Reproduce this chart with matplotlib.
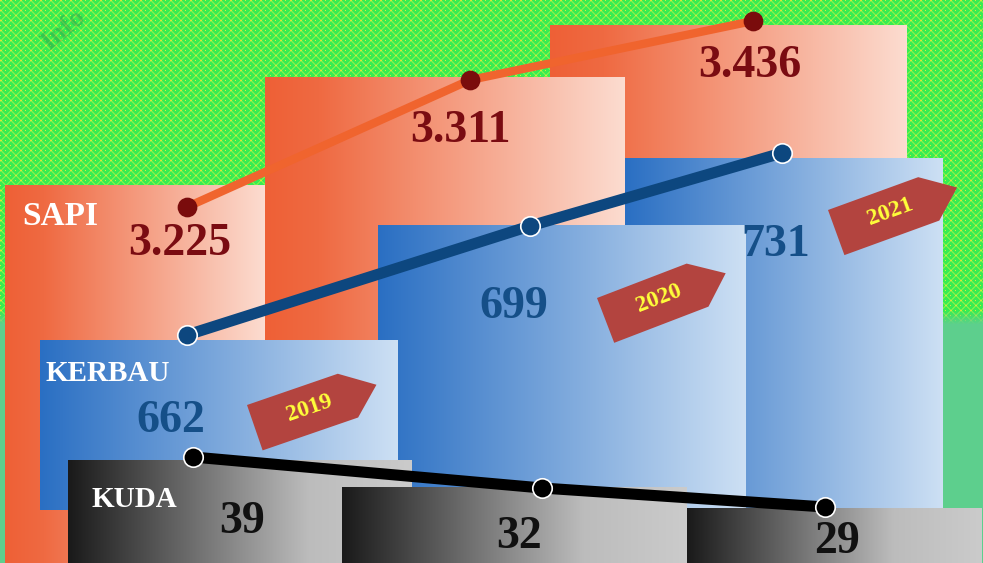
import numpy as np
import matplotlib.pyplot as plt
from matplotlib.colors import LinearSegmentedColormap, to_rgb
from matplotlib.patches import Polygon

# --- DATA ---
years = ['2019', '2020', '2021']
sapi = [3225, 3311, 3436]
kerbau = [662, 699, 731]
kuda = [39, 32, 29]

# --- LAYOUT (pixel coords, y grows downward) ---
W, H = 983, 563
# panel boxes: (left, right, top, bottom)
sapi_box = [(5, 265, 185, 563), (265, 625, 77, 563), (550, 907, 25, 563)]
kerbau_box = [(40, 398, 340, 510), (378, 746, 225, 563), (625, 943, 158, 563)]
kuda_box = [(68, 412, 460, 563), (342, 687, 487, 563), (687, 982, 508, 563)]
# line anchor points
sapi_pts = [(187, 207), (470, 80), (753, 21)]
kerbau_pts = [(187, 335), (530, 226), (782, 153)]
kuda_pts = [(193, 457), (542, 488), (825, 507)]
# value label positions (center x, baseline y)
sapi_lbl = [(180, 255), (460, 142), (750, 77)]
kerbau_lbl = [(171, 432), (514, 318), (776, 256)]
kuda_lbl = [(242, 533), (519, 548), (837, 553)]
# year tags: top-left corner and angle
tag_pos = [(247, 405, 19), (597, 298, 21), (828, 210, 20)]

SERIF = 'Liberation Serif'


def fmt_id(v):
    # Indonesian thousands separator
    return f'{v:,}'.replace(',', '.')


def grad_cmap(stops):
    return LinearSegmentedColormap.from_list('g', stops)


orange_cm = grad_cmap([(0, '#ee6036'), (0.15, '#ef6a42'), (1, '#fcdcd0')])
blue_cm = grad_cmap([(0, '#2a6fc3'), (1, '#cde0f4')])
grey_cm = grad_cmap([(0, '#1a1a1a'), (0.7, '#bcbcbc'), (1, '#cbcbcb')])


def panel(ax, box, cmap, z):
    x0, x1, y0, y1 = box
    g = np.linspace(0, 1, 256).reshape(1, -1)
    ax.imshow(g, cmap=cmap, extent=(x0, x1, y1, y0), aspect='auto',
              interpolation='bilinear', zorder=z)


def background():
    yy, xx = np.mgrid[0:H, 0:W]
    img = np.zeros((H, W, 3))
    img[:] = np.array([55, 236, 82]) / 255
    d1 = (xx + yy) % 10
    d2 = (xx - yy) % 10
    lines = (d1 < 2) | (d2 < 2)
    dots = ((d1 < 2) & (d2 < 2)) | ((d1 == 5) & (d2 == 5))
    img[lines] = np.array([120, 240, 75]) / 255
    img[dots] = np.array([215, 232, 55]) / 255
    mint = np.array(to_rgb('#5dcf8d'))
    t = np.clip((yy - 310) / 14.0, 0, 1)[..., None]
    img = img * (1 - t) + mint * t
    return img


fig = plt.figure(figsize=(W / 100, H / 100), dpi=100)
ax = fig.add_axes([0, 0, 1, 1])
ax.imshow(background(), extent=(0, W, H, 0), aspect='auto', zorder=0)

# faint watermark
ax.text(64, 30, 'Info', rotation=40, fontsize=20, fontweight='bold',
        color='#2a9a4a', alpha=0.45, ha='center', va='center', family=SERIF, zorder=1)

# panels: sapi and kerbau back-to-front from 2021, kuda from 2019
for i in (2, 1, 0):
    panel(ax, sapi_box[i], orange_cm, 2)
for i in (2, 1, 0):
    panel(ax, kerbau_box[i], blue_cm, 3)
for i in (0, 1, 2):
    panel(ax, kuda_box[i], grey_cm, 4)

# trend lines
def trend(pts, color, lw, mfc, mec, ms):
    xs = [p[0] for p in pts]
    ys = [p[1] for p in pts]
    ax.plot(xs, ys, color=color, lw=lw, solid_capstyle='round', zorder=6)
    ax.plot(xs, ys, 'o', ms=ms, mfc=mfc, mec=mec, mew=1.2, zorder=7)

trend(sapi_pts, '#f0642e', 6.0, '#7a0c0c', '#7a0c0c', 13)
trend(kerbau_pts, '#0d477f', 8.0, '#0d477f', 'white', 14)
trend(kuda_pts, '#000000', 8.0, '#000000', 'white', 14)

# value labels
for vals, pos, col in [(sapi, sapi_lbl, '#7a0c12'),
                       (kerbau, kerbau_lbl, '#154f88'),
                       (kuda, kuda_lbl, '#111111')]:
    for v, (x, y) in zip(vals, pos):
        ax.text(x, y, fmt_id(v), ha='center', va='baseline', fontsize=33,
                fontweight='bold', color=col, family=SERIF, zorder=8)

# category names
for name, x, y, fs in [('SAPI', 60, 225, 24), ('KERBAU', 108, 381, 21),
                       ('KUDA', 134, 507, 21)]:
    ax.text(x, y, name, ha='center', va='baseline', fontsize=fs,
            fontweight='bold', color='white', family=SERIF, zorder=8)

# year tags (arrow shaped)
shape = [(0, 0), (96, 0), (129, 23), (101, 48), (0, 48)]
for yr, (ox, oy, ang) in zip(years, tag_pos):
    a = np.radians(ang)
    u = np.array([np.cos(a), -np.sin(a)])
    v = np.array([np.sin(a), np.cos(a)])
    pts = [np.array([ox, oy]) + lx * u + ly * v for lx, ly in shape]
    ax.add_patch(Polygon(pts, closed=True, fc='#b3443f', ec='none', zorder=9))
    c = np.array([ox, oy]) + 58 * u + 23 * v
    ax.text(c[0], c[1], yr, rotation=ang, rotation_mode='anchor',
            ha='center', va='center', fontsize=17, fontweight='bold',
            color='#ffff3a', family=SERIF, zorder=10)

ax.set_xlim(0, W)
ax.set_ylim(H, 0)
ax.axis('off')
fig.savefig('out.png', dpi=100)
